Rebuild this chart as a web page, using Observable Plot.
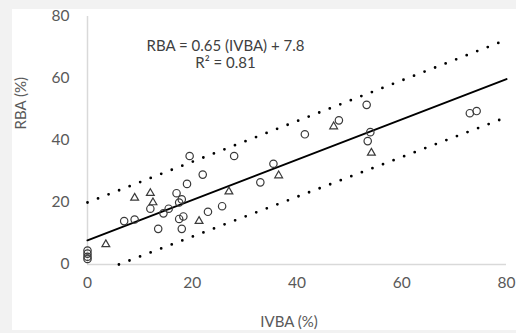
<!DOCTYPE html>
<html>
<head>
<meta charset="utf-8">
<script src="https://cdn.jsdelivr.net/npm/d3@7"></script>
<script src="https://cdn.jsdelivr.net/npm/@observablehq/plot@0.6"></script>
<style>
  html, body { margin: 0; padding: 0; background: #f2f2f2; }
  #wrap { position: relative; width: 516px; height: 333px; background: #f2f2f2; overflow: hidden; }
  #chart { position: absolute; left: 12px; top: 9px; width: 504px; height: 321px; background: #ffffff; }
  #chart svg { display: block; }
</style>
</head>
<body>
<div id="wrap"><div id="chart"></div></div>
<script>
// Observed data: circles
const circleX = [0, 0, 0, 0, 7, 9, 12, 13.5, 14.5, 15.5, 17, 17.5, 18, 17.5, 18.3, 18, 19, 19.5, 22, 23, 25.7, 28, 33, 35.5, 41.5, 48, 53.3, 54, 53.5, 73, 74.3];
const circleY = [4.5, 3.5, 2.5, 1.8, 14, 14.5, 18, 11.5, 16.5, 18, 23, 20, 21, 14.7, 15.5, 11.5, 26, 35, 29, 17, 18.8, 35, 26.5, 32.5, 42, 46.5, 51.5, 42.7, 39.8, 48.8, 49.5];
// Observed data: triangles
const triX = [3.5, 9, 12, 12.5, 21.3, 27, 36.5, 47, 54.2];
const triY = [6.5, 21.5, 23, 20, 14, 23.5, 28.7, 44.5, 36];
// Regression line: RBA = 0.65 (IVBA) + 7.8
const fitSlope = 0.65;
const fitIntercept = 7.8;
const fitRange = [0, 80];
// Dotted bound lines (endpoints)
const upperX = [0, 80];
const upperY = [20, 72.5];
const lowerX = [6, 80];
const lowerY = [0, 47.5];
// Ticks and text
const xTicks = [0, 20, 40, 60, 80];
const yTicks = [0, 20, 40, 60, 80];
const equationLine1 = "RBA = 0.65 (IVBA) + 7.8";
const equationLine2 = "R² = 0.81";
const xTitle = "IVBA (%)";
const yTitle = "RBA (%)";

const circles = circleX.map((x, i) => ({x, y: circleY[i]}));
const tris = triX.map((x, i) => ({x, y: triY[i]}));
const fit = fitRange.map(x => ({x, y: fitSlope * x + fitIntercept}));
const upper = upperX.map((x, i) => ({x, y: upperY[i]}));
const lower = lowerX.map((x, i) => ({x, y: lowerY[i]}));

const font = "Lato, 'Open Sans', sans-serif";
const labelColor = "#595959";

const chart = Plot.plot({
  width: 504,
  height: 321,
  marginLeft: 75,
  marginRight: 10,
  marginTop: 7,
  marginBottom: 66,
  style: {fontFamily: font, fontSize: "15px", color: labelColor, background: "#ffffff", overflow: "visible"},
  x: {domain: [0, 80], ticks: xTicks},
  y: {domain: [0, 80], ticks: yTicks},
  marks: [
    Plot.ruleY([0], {stroke: "#d9d9d9", strokeWidth: 1.5}),
    Plot.ruleX([0], {stroke: "#d9d9d9", strokeWidth: 1.5}),
    Plot.axisX({ticks: xTicks, tickSize: 0, tickPadding: 12, label: null, fill: labelColor, fontSize: 15.5}),
    Plot.axisY({ticks: yTicks, tickSize: 0, tickPadding: 18, label: null, fill: labelColor, fontSize: 15.5}),
    Plot.line(upper, {x: "x", y: "y", stroke: "#000", strokeWidth: 2.8, strokeDasharray: "0,11.3", strokeLinecap: "round"}),
    Plot.line(lower, {x: "x", y: "y", stroke: "#000", strokeWidth: 2.8, strokeDasharray: "0,11.3", strokeLinecap: "round"}),
    Plot.line(fit, {x: "x", y: "y", stroke: "#000", strokeWidth: 2}),
    Plot.dot(circles, {x: "x", y: "y", symbol: "circle", r: 3.7, fill: "none", stroke: "#3a3a3a", strokeWidth: 1.2}),
    Plot.dot(tris, {x: "x", y: "y", symbol: "triangle", r: 2.9, fill: "none", stroke: "#3a3a3a", strokeWidth: 1.2}),
    Plot.text([equationLine1], {frameAnchor: "top-left", dx: 138, dy: 34, lineAnchor: "bottom", textAnchor: "middle", fill: "#404040", fontSize: 15}),
    Plot.text([equationLine2], {frameAnchor: "top-left", dx: 138, dy: 51, lineAnchor: "bottom", textAnchor: "middle", fill: "#404040", fontSize: 15}),
    Plot.text([xTitle], {frameAnchor: "bottom", dx: -8, dy: 52, lineAnchor: "top", fill: labelColor, fontSize: 15}),
    Plot.text([yTitle], {frameAnchor: "left", dx: -66, dy: -11, rotate: -90, fill: labelColor, fontSize: 15})
  ]
});
document.getElementById("chart").appendChild(chart);
</script>
</body>
</html>
